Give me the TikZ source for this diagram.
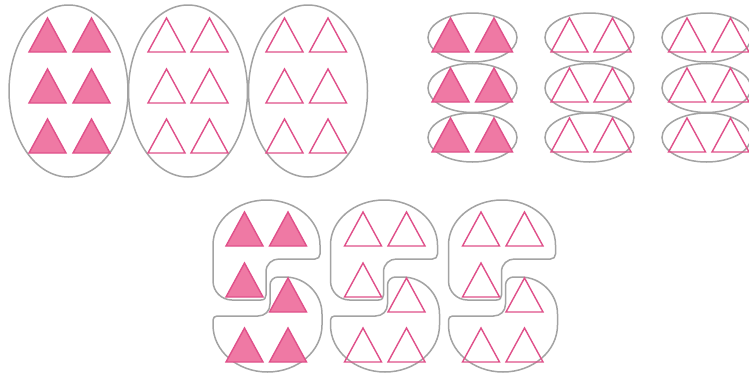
\documentclass[tikz,border=0pt]{standalone}
\usetikzlibrary{calc}
\definecolor{ovalgray}{HTML}{A3A3A3}
\definecolor{pinkline}{HTML}{E0508A}
\definecolor{pinkfill}{HTML}{EF79A4}
\tikzset{
  oval/.style={draw=ovalgray, line width=1.5pt},
  tristroke/.style={draw=pinkline, line width=1.4pt},
  ftri/.pic={\draw[tristroke, fill=pinkfill] (-18.5,0) -- (18.5,0) -- (0,-34) -- cycle;},
  otri/.pic={\draw[tristroke] (-18.5,0) -- (18.5,0) -- (0,-34) -- cycle;},
  sshape/.pic={
    % upper lobe
    \draw[oval] (213,281) -- (213,245)
      .. controls (213,220.1) and (237,200) .. (266.5,200)
      .. controls (296,200) and (320,220.1) .. (320,245)
      -- (320,254) .. controls (320,257) and (318,259) .. (315,259)
      -- (279,259) .. controls (272,259) and (266,264) .. (266,272)
      -- (266,295) .. controls (266,298) and (264.5,300) .. (261,300)
      -- (232,300) .. controls (221.5,300) and (213,291.5) .. cycle;
    % lower lobe
    \draw[oval] (213,320) -- (213,325)
      .. controls (213,351) and (237.4,372) .. (267.5,372)
      .. controls (297.6,372) and (322,351) .. (322,325)
      -- (322,314) .. controls (322,293.6) and (305.4,277) .. (285,277)
      -- (278,277) .. controls (273.6,277) and (270,280.6) .. (270,285)
      -- (270,304) .. controls (270,311) and (265,316) .. (258,316)
      -- (217,316) .. controls (214.8,316) and (213,317.8) .. cycle;
  }
}
\begin{document}
\begin{tikzpicture}[x=1pt,y=-1pt]
\fill[white] (0,0) rectangle (749,375);
\useasboundingbox (0,0) rectangle (749,375);

% ---- top-left: three tall ovals
\foreach \cx in {68.5,188,308}{
  \draw[oval] (\cx,91) ellipse [x radius=59.5pt, y radius=86pt];
}
\foreach \yb in {52,103,153}{
  \pic at (47.5,\yb) {ftri};
  \pic at (91.5,\yb) {ftri};
  \pic at (166.5,\yb) {otri};
  \pic at (209.5,\yb) {otri};
  \pic at (284.5,\yb) {otri};
  \pic at (328,\yb) {otri};
}

% ---- top-right: nine small ovals
\foreach \cy/\yb in {37.5/52,88/102,137.5/152}{
  \foreach \cx in {472.5,589.5,706.5}{
    \draw[oval] (\cx,\cy) ellipse [x radius=44.5pt, y radius=24.5pt];
  }
  \pic at (450.5,\yb) {ftri};
  \pic at (494,\yb) {ftri};
  \pic at (569.5,\yb) {otri};
  \pic at (612.5,\yb) {otri};
  \pic at (687,\yb) {otri};
  \pic at (730.5,\yb) {otri};
}

% ---- bottom: three S shapes
\pic at (0,0) {sshape};
\pic at (117.5,0) {sshape};
\pic at (235.5,0) {sshape};

\pic at (244.5,246) {ftri};
\pic at (288,246) {ftri};
\pic at (244.5,297) {ftri};
\pic at (288,312) {ftri};
\pic at (244.5,362) {ftri};
\pic at (288,362) {ftri};

\foreach \dx in {118.5,236.5}{
  \pic at (244.5+\dx,246) {otri};
  \pic at (288+\dx,246) {otri};
  \pic at (244.5+\dx,297) {otri};
  \pic at (288+\dx,312) {otri};
  \pic at (244.5+\dx,362) {otri};
  \pic at (288+\dx,362) {otri};
}
\end{tikzpicture}
\end{document}
